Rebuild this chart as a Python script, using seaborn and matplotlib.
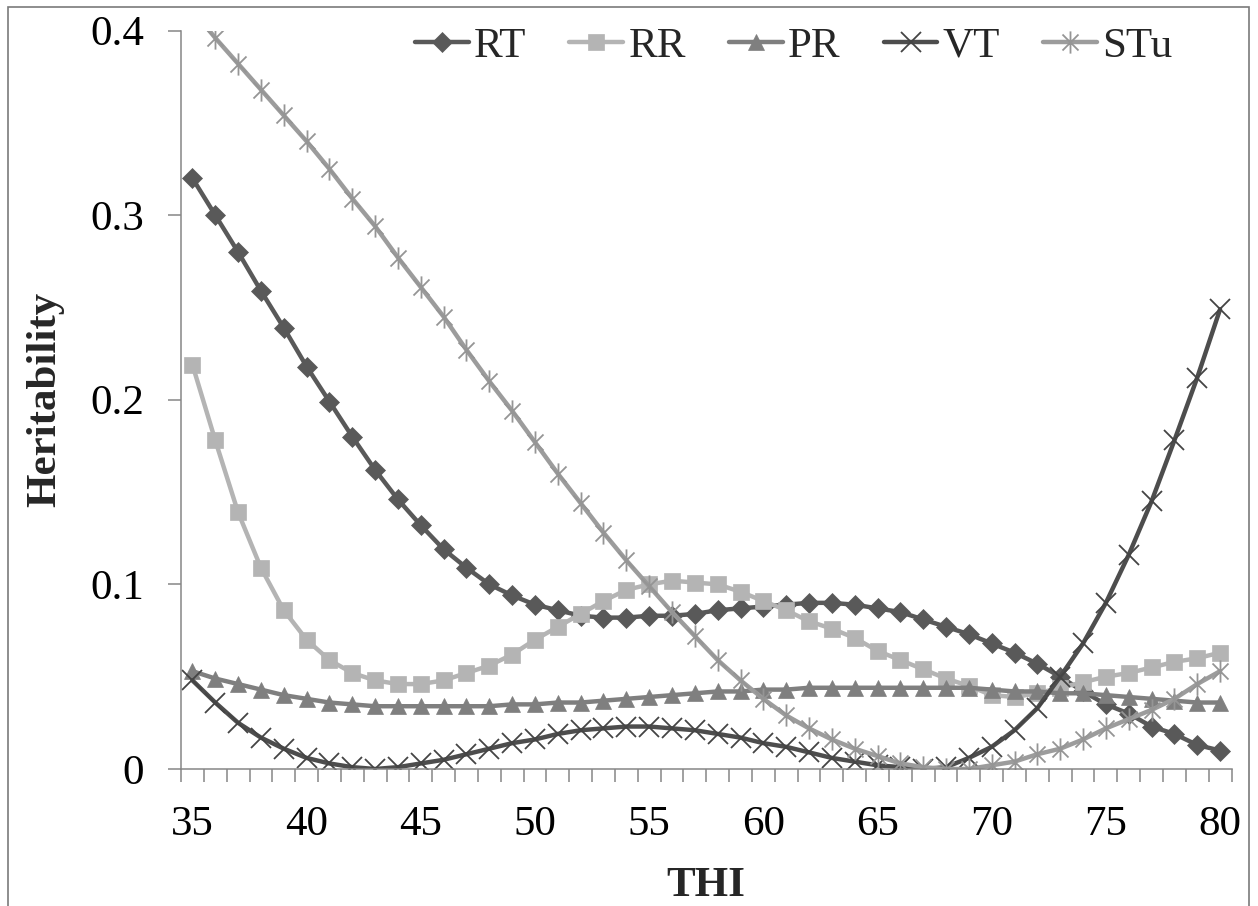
import numpy as np
import pandas as pd
import matplotlib
matplotlib.use("Agg")
import matplotlib.pyplot as plt
import seaborn as sns
from matplotlib.path import Path
from matplotlib.patches import Rectangle
from matplotlib.ticker import FixedLocator, FuncFormatter

# ---------------- data ----------------
thi = list(range(35, 81))

rt = [0.320, 0.300, 0.280, 0.259, 0.239, 0.218, 0.199, 0.180, 0.162, 0.146,
      0.132, 0.119, 0.109, 0.100, 0.094, 0.089, 0.086, 0.083, 0.082, 0.082,
      0.083, 0.083, 0.084, 0.086, 0.087, 0.088, 0.089, 0.090, 0.090, 0.089,
      0.087, 0.085, 0.081, 0.077, 0.073, 0.068, 0.063, 0.057, 0.050, 0.042,
      0.035, 0.030, 0.023, 0.019, 0.013, 0.010]

rr = [0.219, 0.178, 0.139, 0.109, 0.086, 0.070, 0.059, 0.052, 0.048, 0.046,
      0.046, 0.048, 0.052, 0.056, 0.062, 0.070, 0.077, 0.084, 0.091, 0.097,
      0.100, 0.102, 0.101, 0.100, 0.096, 0.091, 0.086, 0.080, 0.076, 0.071,
      0.064, 0.059, 0.054, 0.049, 0.045, 0.040, 0.039, 0.041, 0.044, 0.047,
      0.050, 0.052, 0.055, 0.058, 0.060, 0.063]

pr = [0.053, 0.049, 0.046, 0.043, 0.040, 0.038, 0.036, 0.035, 0.034, 0.034,
      0.034, 0.034, 0.034, 0.034, 0.035, 0.035, 0.036, 0.036, 0.037, 0.038,
      0.039, 0.040, 0.041, 0.042, 0.042, 0.043, 0.043, 0.044, 0.044, 0.044,
      0.044, 0.044, 0.044, 0.044, 0.044, 0.043, 0.042, 0.042, 0.041, 0.041,
      0.040, 0.039, 0.038, 0.037, 0.036, 0.036]

vt = [0.048, 0.036, 0.025, 0.017, 0.011, 0.006, 0.003, 0.001, 0.000, 0.001,
      0.003, 0.005, 0.008, 0.011, 0.014, 0.016, 0.019, 0.021, 0.022, 0.023,
      0.023, 0.022, 0.021, 0.019, 0.017, 0.014, 0.012, 0.009, 0.006, 0.004,
      0.002, 0.001, 0.000, 0.001, 0.006, 0.012, 0.021, 0.033, 0.050, 0.068,
      0.090, 0.116, 0.145, 0.178, 0.212, 0.249]

stu = [0.411, 0.396, 0.382, 0.368, 0.354, 0.340, 0.325, 0.309, 0.294, 0.277,
       0.261, 0.245, 0.227, 0.210, 0.194, 0.177, 0.160, 0.144, 0.128, 0.113,
       0.099, 0.085, 0.072, 0.059, 0.048, 0.038, 0.029, 0.022, 0.016, 0.011,
       0.007, 0.003, 0.001, 0.000, 0.000, 0.002, 0.004, 0.008, 0.011, 0.016,
       0.022, 0.027, 0.032, 0.038, 0.046, 0.053]

series_names = ["RT", "RR", "PR", "VT", "STu"]
y_ticks = [0.0, 0.1, 0.2, 0.3, 0.4]
x_ticks = [35, 40, 45, 50, 55, 60, 65, 70, 75, 80]

# ---------------- style ----------------
sns.set_style("white")
plt.rcParams["font.family"] = ["Liberation Serif", "DejaVu Serif"]

FS = 31
AXC = "#868686"

star = Path([(0, -1), (0, 1), (-0.72, -0.72), (0.72, 0.72), (-0.72, 0.72), (0.72, -0.72)],
            [Path.MOVETO, Path.LINETO, Path.MOVETO, Path.LINETO, Path.MOVETO, Path.LINETO])

styles = {
    "RT":  dict(color="#595959", marker="D", markersize=10, mfc="#595959", mec="#595959", mew=0.5),
    "RR":  dict(color="#b4b4b4", marker="s", markersize=11.5, mfc="#b4b4b4", mec="#b4b4b4", mew=0.5),
    "PR":  dict(color="#7f7f7f", marker="^", markersize=12, mfc="#7f7f7f", mec="#7f7f7f", mew=0.5),
    "VT":  dict(color="#4d4d4d", marker="x", markersize=15, mec="#444444", mew=1.3),
    "STu": dict(color="#9c9c9c", marker=star, markersize=16, mfc="none", mec="#959595", mew=1.3),
}

fig = plt.figure(figsize=(12.58, 9.06), dpi=100)
ax = fig.add_axes([181 / 1258, 1 - 769 / 906, (1231.5 - 181) / 1258, (769 - 30.5) / 906])

values = {"RT": rt, "RR": rr, "PR": pr, "VT": vt, "STu": stu}
for name in series_names:
    st = styles[name]
    sns.lineplot(x=thi, y=values[name], ax=ax, lw=3.2, label=name, errorbar=None,
                 legend=False, **st)

ax.set_xlim(34.5, 80.5)
ax.set_ylim(0, 0.4)

ax.xaxis.set_major_locator(FixedLocator(x_ticks))
ax.xaxis.set_minor_locator(FixedLocator(np.arange(34.5, 81.0, 1.0)))
ax.yaxis.set_major_locator(FixedLocator(y_ticks))
ax.yaxis.set_major_formatter(FuncFormatter(lambda v, p: "0" if abs(v) < 1e-9 else f"{v:.1f}"))

ax.tick_params(axis="x", which="major", length=0, pad=26, labelsize=FS, labelcolor="black")
ax.tick_params(axis="x", which="minor", length=9, width=1.1, color=AXC, direction="out", bottom=True)
ax.tick_params(axis="y", which="major", length=9.5, width=1.1, color=AXC, direction="out",
               pad=17, labelsize=FS, labelcolor="black", left=True)

for s in ["top", "right"]:
    ax.spines[s].set_visible(False)
for s in ["left", "bottom"]:
    ax.spines[s].set_color(AXC)
    ax.spines[s].set_linewidth(1.1)

ax.set_xlabel("THI", fontsize=FS, fontweight="bold", labelpad=17)
ax.set_ylabel("Heritability", fontsize=FS, fontweight="bold", labelpad=19)

handles, labels = ax.get_legend_handles_labels()
fig.legend(handles, labels, loc="center left", bbox_to_anchor=(415 / 1258, 1 - 46 / 906),
           bbox_transform=fig.transFigure, ncol=5, frameon=False, fontsize=FS,
           handlelength=1.25, handletextpad=0.12, columnspacing=1.0, borderpad=0,
           borderaxespad=0, numpoints=1)

fig.patches.append(Rectangle((7.5 / 1258, -0.05), (1248.5 - 7.5) / 1258, 1 - 7.5 / 906 + 0.05,
                             transform=fig.transFigure, fill=False, edgecolor="#7a7a7a",
                             linewidth=1.2, zorder=0))

fig.savefig("out.png", dpi=100, facecolor="white")
